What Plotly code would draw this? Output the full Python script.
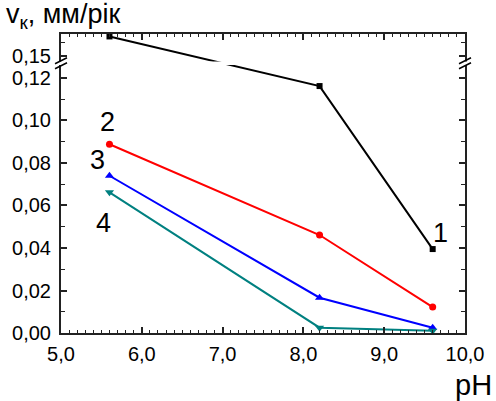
import plotly.graph_objects as go

# ---- data ----
ph = [5.6, 8.2, 9.6]
s1 = [0.164, 0.1162, 0.0395]
s2 = [0.0888, 0.0461, 0.0122]
s3 = [0.0740, 0.0166, 0.0025]
s4 = [0.0662, 0.0025, 0.0010]
series_names = ["1", "2", "3", "4"]
series_colors = ["#000000", "#ff0000", "#0000ff", "#008080"]
series_symbols = ["square", "circle", "triangle-up", "triangle-down"]
series_sizes = [6, 7, 8, 8]

y_major = [0.00, 0.02, 0.04, 0.06, 0.08, 0.10, 0.12, 0.15]
y_major_text = ["0,00", "0,02", "0,04", "0,06", "0,08", "0,10", "0,12", "0,15"]
y_minor = [0.01, 0.03, 0.05, 0.07, 0.09, 0.11, 0.16]
x_major = [5, 6, 7, 8, 9, 10]
x_major_text = ["5,0", "6,0", "7,0", "8,0", "9,0", "10,0"]

label_x = [9.7, 5.573, 5.45, 5.52]
label_y = [0.0471, 0.0993, 0.0814, 0.0518]  # positions in axis units

# ---- broken y-axis mapping ----
LOW_MAX = 0.1261
HIGH_MIN = 0.1461
GAP = 0.00165
K = 0.659
Y_TOP = 0.1407


def f(v):
    if v <= LOW_MAX:
        return v
    return LOW_MAX + GAP + (v - HIGH_MIN) * K


FONT = "Liberation Sans, Arial, sans-serif"

fig = go.Figure()
data = [s1, s2, s3, s4]
for i, ys in enumerate(data):
    fig.add_trace(go.Scatter(
        x=ph, y=[f(v) for v in ys], mode="lines+markers",
        line=dict(color=series_colors[i], width=2),
        marker=dict(symbol=series_symbols[i], size=series_sizes[i],
                    color=series_colors[i]),
        cliponaxis=False, showlegend=False))

for i, name in enumerate(series_names):
    fig.add_annotation(x=label_x[i], y=label_y[i], text=name, showarrow=False,
                       font=dict(family=FONT, size=27, color="black"),
                       xanchor="center", yanchor="middle")

# break band (hides lines and axes in the gap)
fig.add_shape(type="rect", xref="paper", yref="y", x0=-0.03, x1=1.03,
              y0=LOW_MAX, y1=LOW_MAX + GAP, fillcolor="white",
              line=dict(width=0), layer="above")
# break slashes
for xa in [0, 1]:
    for off in [-2.5, 2.5]:
        fig.add_shape(type="line", xref="x domain", yref="y",
                      xsizemode="pixel", xanchor=xa, x0=-6, x1=6,
                      ysizemode="pixel", yanchor=LOW_MAX + GAP / 2,
                      y0=off - 3, y1=off + 3,
                      line=dict(color="black", width=1.5), layer="above")

fig.add_annotation(xref="paper", yref="paper", x=-0.141, y=1.06,
                   text="v<sub>к</sub>, мм/рік", showarrow=False,
                   xanchor="left", yanchor="middle",
                   font=dict(family=FONT, size=27, color="black"))
fig.add_annotation(xref="paper", yref="paper", x=1.072, y=-0.175,
                   text="pH", showarrow=False, xanchor="right", yanchor="middle",
                   font=dict(family=FONT, size=29, color="black"))

axis_common = dict(showgrid=False, zeroline=False, showline=True,
                   linecolor="#222", linewidth=2, mirror="ticks",
                   ticks="inside", tickcolor="#222", tickwidth=1.5,
                   tickfont=dict(family=FONT, size=20, color="black"))

fig.update_xaxes(range=[5, 10], tickmode="array", tickvals=x_major,
                 ticktext=x_major_text, ticklen=6,
                 minor=dict(dtick=0.1, tick0=5, ticks="inside", ticklen=3,
                            tickcolor="#222", tickwidth=1),
                 ticklabelstandoff=2, **axis_common)
fig.update_yaxes(range=[0, Y_TOP], tickmode="array",
                 tickvals=[f(v) for v in y_major], ticktext=y_major_text,
                 ticklen=6,
                 minor=dict(tickmode="array", tickvals=[f(v) for v in y_minor],
                            ticks="inside", ticklen=4, tickcolor="#222",
                            tickwidth=1),
                 ticklabelstandoff=4, **axis_common)

fig.update_layout(width=496, height=401,
                  margin=dict(l=61, r=24, t=34, b=68),
                  plot_bgcolor="white", paper_bgcolor="white",
                  font=dict(family=FONT, color="black"))

fig.write_html("out.html")
